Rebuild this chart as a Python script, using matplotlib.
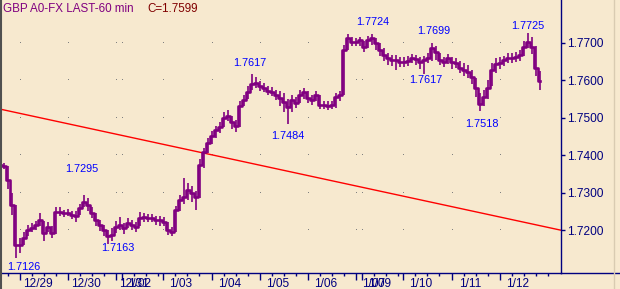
import numpy as np
import matplotlib.pyplot as plt
from matplotlib.lines import Line2D

plt.rcParams['font.family'] = ['Liberation Sans', 'DejaVu Sans']

# GBP A0-FX 60分钟, 每个点取2小时 (收盘/最高/最低)
close = [1.7374, 1.7371, 1.7334, 1.7267, 1.7161, 1.7161, 1.7179, 1.7201, 1.7206, 1.7214,
         1.7227, 1.7193, 1.7209, 1.7193, 1.7249, 1.7249, 1.7246, 1.7246, 1.7241, 1.7238,
         1.7259, 1.7275, 1.7267, 1.7246, 1.7227, 1.7214, 1.7201, 1.7185, 1.7187, 1.7209,
         1.7214, 1.7206, 1.7219, 1.7214, 1.7209, 1.7233, 1.7235, 1.7233, 1.7233, 1.7227,
         1.7227, 1.7222, 1.7201, 1.7195, 1.7254, 1.7281, 1.7288, 1.7307, 1.7299, 1.7288,
         1.7374, 1.7409, 1.7433, 1.7451, 1.7467, 1.7475, 1.7499, 1.7505, 1.7489, 1.7478,
         1.7531, 1.7547, 1.7569, 1.7590, 1.7593, 1.7585, 1.7579, 1.7571, 1.7569, 1.7561,
         1.7553, 1.7542, 1.7529, 1.7547, 1.7539, 1.7561, 1.7569, 1.7553, 1.7547, 1.7561,
         1.7534, 1.7534, 1.7531, 1.7534, 1.7555, 1.7561, 1.7681, 1.7713, 1.7702, 1.7702,
         1.7707, 1.7689, 1.7707, 1.7713, 1.7699, 1.7681, 1.7667, 1.7659, 1.7654, 1.7654,
         1.7649, 1.7649, 1.7651, 1.7659, 1.7657, 1.7649, 1.7654, 1.7659, 1.7686, 1.7675,
         1.7654, 1.7649, 1.7659, 1.7649, 1.7646, 1.7633, 1.7627, 1.7622, 1.7609, 1.7579,
         1.7537, 1.7555, 1.7579, 1.7627, 1.7643, 1.7646, 1.7654, 1.7659, 1.7659, 1.7662,
         1.7667, 1.7689, 1.7702, 1.7689, 1.7633, 1.7599]
high = [1.7380, 1.7378, 1.7372, 1.7300, 1.7267, 1.7180, 1.7195, 1.7215, 1.7218, 1.7225,
        1.7245, 1.7225, 1.7222, 1.7210, 1.7262, 1.7262, 1.7255, 1.7256, 1.7252, 1.7250,
        1.7270, 1.7295, 1.7285, 1.7262, 1.7245, 1.7228, 1.7215, 1.7200, 1.7205, 1.7225,
        1.7235, 1.7220, 1.7232, 1.7228, 1.7222, 1.7248, 1.7245, 1.7242, 1.7242, 1.7238,
        1.7238, 1.7235, 1.7222, 1.7208, 1.7265, 1.7295, 1.7339, 1.7325, 1.7318, 1.7305,
        1.7390, 1.7420, 1.7445, 1.7465, 1.7478, 1.7488, 1.7515, 1.7520, 1.7505, 1.7495,
        1.7545, 1.7560, 1.7585, 1.7617, 1.7608, 1.7598, 1.7592, 1.7585, 1.7582, 1.7575,
        1.7570, 1.7565, 1.7550, 1.7560, 1.7555, 1.7575, 1.7580, 1.7570, 1.7560, 1.7572,
        1.7560, 1.7545, 1.7545, 1.7545, 1.7565, 1.7572, 1.7695, 1.7722, 1.7715, 1.7712,
        1.7716, 1.7705, 1.7718, 1.7724, 1.7712, 1.7698, 1.7685, 1.7672, 1.7668, 1.7668,
        1.7662, 1.7662, 1.7665, 1.7670, 1.7668, 1.7662, 1.7665, 1.7672, 1.7699, 1.7690,
        1.7672, 1.7662, 1.7670, 1.7662, 1.7660, 1.7650, 1.7645, 1.7640, 1.7628, 1.7605,
        1.7565, 1.7575, 1.7600, 1.7645, 1.7660, 1.7662, 1.7665, 1.7672, 1.7672, 1.7675,
        1.7680, 1.7705, 1.7725, 1.7715, 1.7690, 1.7625]
low = [1.7366, 1.7362, 1.7310, 1.7240, 1.7126, 1.7140, 1.7160, 1.7185, 1.7195, 1.7200,
       1.7210, 1.7172, 1.7195, 1.7178, 1.7190, 1.7238, 1.7236, 1.7238, 1.7230, 1.7222,
       1.7240, 1.7262, 1.7250, 1.7232, 1.7212, 1.7198, 1.7185, 1.7163, 1.7170, 1.7192,
       1.7200, 1.7190, 1.7205, 1.7200, 1.7195, 1.7210, 1.7222, 1.7222, 1.7222, 1.7215,
       1.7212, 1.7210, 1.7188, 1.7185, 1.7195, 1.7250, 1.7270, 1.7280, 1.7275, 1.7255,
       1.7285, 1.7365, 1.7405, 1.7430, 1.7445, 1.7460, 1.7475, 1.7490, 1.7470, 1.7462,
       1.7475, 1.7530, 1.7550, 1.7575, 1.7580, 1.7572, 1.7568, 1.7560, 1.7558, 1.7548,
       1.7530, 1.7515, 1.7484, 1.7515, 1.7525, 1.7540, 1.7550, 1.7540, 1.7535, 1.7545,
       1.7522, 1.7522, 1.7520, 1.7522, 1.7525, 1.7545, 1.7560, 1.7680, 1.7690, 1.7690,
       1.7692, 1.7675, 1.7685, 1.7695, 1.7680, 1.7665, 1.7650, 1.7640, 1.7638, 1.7628,
       1.7635, 1.7635, 1.7638, 1.7645, 1.7640, 1.7630, 1.7617, 1.7645, 1.7650, 1.7655,
       1.7640, 1.7635, 1.7642, 1.7630, 1.7632, 1.7620, 1.7612, 1.7605, 1.7590, 1.7555,
       1.7518, 1.7530, 1.7550, 1.7585, 1.7620, 1.7630, 1.7638, 1.7645, 1.7645, 1.7648,
       1.7650, 1.7665, 1.7685, 1.7670, 1.7610, 1.7574]
hours = np.arange(len(close)) * 2  # 横轴: 小时序号

# 日期分隔 (小时序号) 和标签
day_starts = [10, 34, 58, 61, 81.5, 106, 130, 154, 178, 181, 201.5, 226, 250]
day_labels = ['12/29', '12/30', '12/31', '1/02', '1/03', '1/04', '1/05', '1/06',
              '1/07', '1/09', '1/10', '1/11', '1/12']
y_ticks = [1.72, 1.73, 1.74, 1.75, 1.76, 1.77]

# 趋势线两端
trend_hours = [0, 280.5]
trend_prices = [1.7523, 1.7200]

# 高低点标注
swing_hours = [7, 42, 54, 126, 144, 186, 216, 212, 240, 264]
swing_prices = [1.7126, 1.7295, 1.7163, 1.7617, 1.7484, 1.7724, 1.7699, 1.7617, 1.7518, 1.7725]
swing_offsets = [(10, -9), (-2, 26), (10, -4), (-2, 11), (0, -12), (1, 12), (2, 12),
                 (2, -6), (2, -13), (0, 7)]

bg = '#F7E9CF'
purple = '#800080'
navy = '#000080'

fig = plt.figure(figsize=(6.2, 2.89), dpi=100)
fig.patch.set_facecolor(bg)
ax = fig.add_axes([0, 16/289, 561/620, 273/289])
ax.set_facecolor(bg)

# 网格点 (单像素)
gx, gy = np.meshgrid(day_starts, y_ticks)
ax.plot(gx.ravel(), gy.ravel(), ',', color='#808080', zorder=1)

ax.plot(trend_hours, trend_prices, color='#FF0000', lw=1.0, zorder=2)
ax.vlines(hours, low, high, color=purple, lw=1.2, zorder=3)
ax.plot(hours, close, drawstyle='steps-mid', color=purple, lw=1.9, zorder=3)

for h, p, off in zip(swing_hours, swing_prices, swing_offsets):
    ax.annotate('%.4f' % p, xy=(h, p), xytext=off, textcoords='offset pixels',
                ha='center', va='center', color='#0000FF', fontsize=7.8)

ax.set_xlim(0, 280.5)
ax.set_ylim(1.70859, 1.78139)

for s in ['left', 'top']:
    ax.spines[s].set_visible(False)
ax.spines['right'].set_color(navy)
ax.spines['bottom'].set_color(navy)
ax.spines['right'].set_linewidth(1.0)
ax.spines['bottom'].set_linewidth(1.0)

ax.yaxis.tick_right()
ax.set_yticks(y_ticks)
ax.set_yticklabels(['%.4f' % v for v in y_ticks])
ax.tick_params(axis='y', direction='out', length=3, width=1, color=navy,
               labelcolor=navy, labelsize=8.6, pad=1)

# 主刻度在每天开始, 次刻度每6小时
minor = [4]
bounds = day_starts + [280.5]
for a, b in zip(bounds[:-1], bounds[1:]):
    minor += list(np.arange(a + 6, b - 1, 6))
ax.set_xticks(day_starts)
ax.set_xticks(minor, minor=True)
ax.set_xticklabels([])
ax.tick_params(axis='x', which='major', direction='out', length=5, width=1, color=navy)
ax.tick_params(axis='x', which='minor', direction='out', length=2.2, width=1, color=navy)
for d, lab in zip(day_starts, day_labels):
    ax.annotate(lab, xy=(d, 0), xycoords=('data', 'axes fraction'), xytext=(18, -14),
                textcoords='offset pixels', ha='center', va='baseline',
                color=navy, fontsize=8.6, annotation_clip=False)

# 边框
fig.add_artist(Line2D([561/620, 1], [16/289, 16/289], color=navy, lw=1.0))
fig.add_artist(Line2D([613.5/620, 613.5/620], [0, 1], color='#D9CBB2', lw=1.0))
fig.add_artist(Line2D([0.8/620, 0.8/620], [0, 1], color='#505050', lw=1.5))

fig.text(3/620, 1 - 12/289, 'GBP A0-FX LAST-60 min', color=purple, fontsize=8.4, va='baseline')
fig.text(147/620, 1 - 12/289, 'C=1.7599', color='#800000', fontsize=8.4, va='baseline')

plt.savefig('out.png', dpi=100, facecolor=bg)
